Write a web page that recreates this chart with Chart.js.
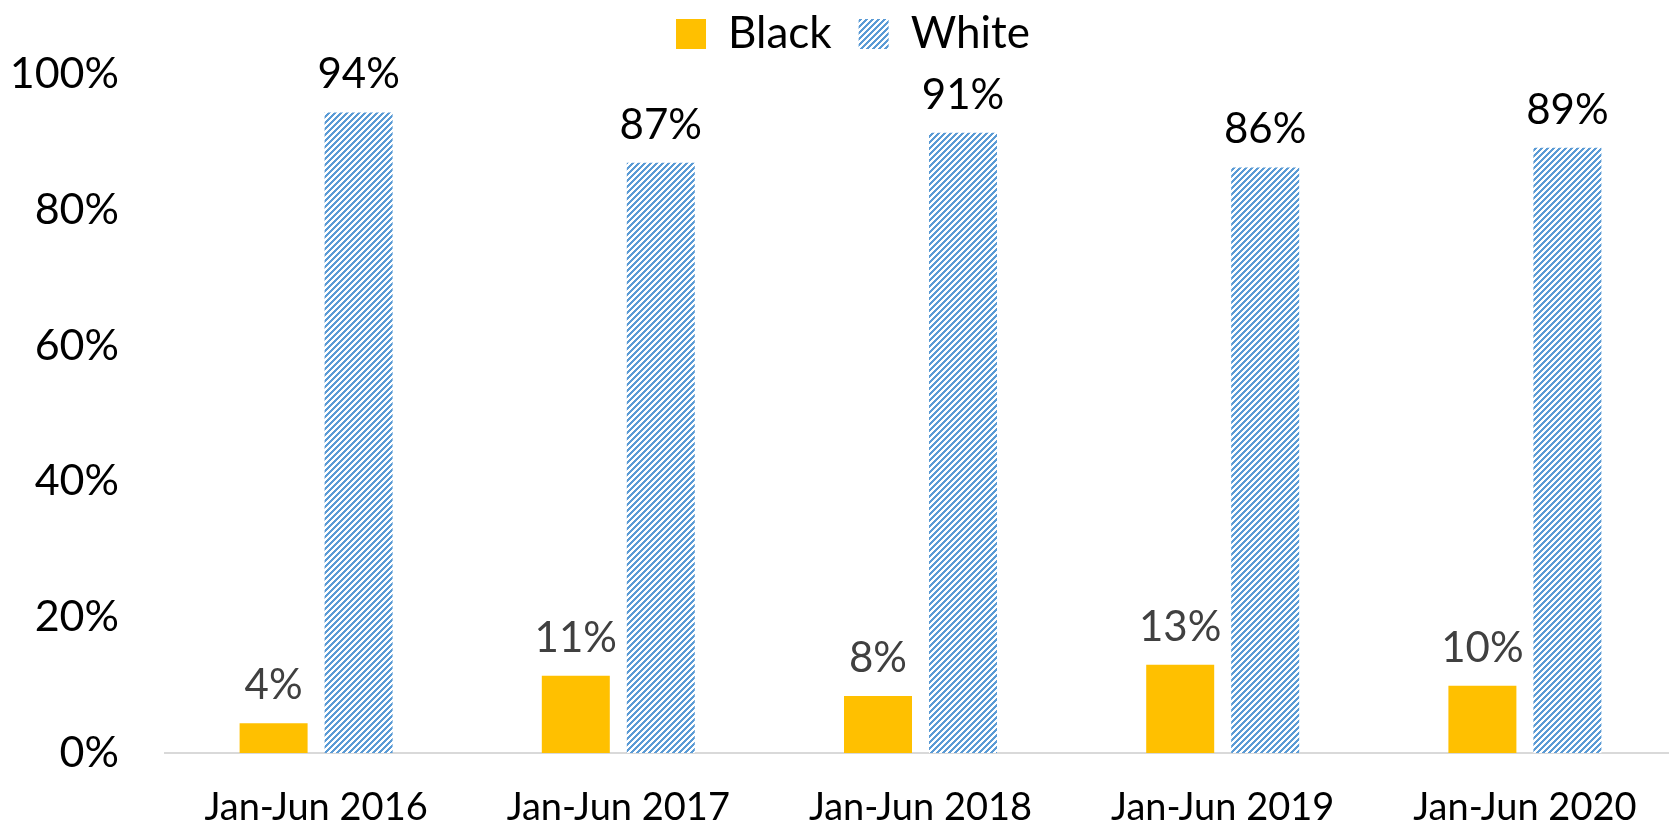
<!DOCTYPE html>
<html>
<head>
<meta charset="utf-8">
<script src="https://cdn.jsdelivr.net/npm/chart.js@4"></script>
<style>
  html, body { margin: 0; padding: 0; background: #fff; overflow: hidden; }
  #wrap { position: relative; width: 1669px; height: 825px; overflow: hidden; }
  #box { position: absolute; left: 0; top: -15px; width: 1676px; height: 840px; }
</style>
</head>
<body>
<div id="wrap"><div id="box"><canvas id="c"></canvas></div></div>
<script>
const categories = ['Jan-Jun 2016', 'Jan-Jun 2017', 'Jan-Jun 2018', 'Jan-Jun 2019', 'Jan-Jun 2020'];
const blackValues = [4.4, 11.4, 8.4, 13.0, 9.9];
const whiteValues = [94.4, 87.0, 91.4, 86.3, 89.2];
const seriesNames = ['Black', 'White'];
const yTicks = [0, 20, 40, 60, 80, 100];

function makeHatch() {
  const n = 6;
  const t = document.createElement('canvas');
  t.width = n; t.height = n;
  const g = t.getContext('2d');
  g.fillStyle = '#ffffff';
  g.fillRect(0, 0, n, n);
  g.fillStyle = '#5B9BD5';
  for (let y = 0; y < n; y++) {
    for (let k = 0; k < 3; k++) {
      const x = (((n - 1 - y + k) % n) + n) % n;
      g.fillRect(x, y, 1, 1);
    }
  }
  return g.createPattern(t, 'repeat');
}
const hatch = makeHatch();

const FONT = 'Lato, "Open Sans", sans-serif';

const legendLayout = {
  id: 'legendLayout',
  beforeInit(chart) {
    const orig = chart.legend.fit;
    chart.legend.fit = function () {
      orig.bind(chart.legend)();
      this.height = 89.5;
    };
  },
  afterLayout(chart) {
    chart.legend.left = 30;
  }
};

const dataLabels = {
  id: 'dataLabels',
  afterDatasetsDraw(chart) {
    const ctx = chart.ctx;
    ctx.save();
    ctx.font = '42px ' + FONT;
    ctx.textAlign = 'center';
    ctx.textBaseline = 'alphabetic';
    chart.data.datasets.forEach((ds, i) => {
      const meta = chart.getDatasetMeta(i);
      ctx.fillStyle = i === 0 ? '#404040' : '#000000';
      meta.data.forEach((el, j) => {
        ctx.fillText(Math.round(ds.data[j]) + '%', el.x, el.y - 24);
      });
    });
    ctx.restore();
  }
};

new Chart(document.getElementById('c'), {
  type: 'bar',
  data: {
    labels: categories,
    datasets: [
      { label: seriesNames[0], data: blackValues, backgroundColor: '#FFC000', borderWidth: 0,
        categoryPercentage: 0.5625, barPercentage: 0.8 },
      { label: seriesNames[1], data: whiteValues, backgroundColor: hatch, borderWidth: 0,
        categoryPercentage: 0.5625, barPercentage: 0.8 }
    ]
  },
  options: {
    responsive: true,
    maintainAspectRatio: false,
    animation: false,
    layout: { padding: 0 },
    plugins: {
      legend: {
        position: 'top',
        align: 'center',
        labels: {
          boxWidth: 30, boxHeight: 30, padding: 27,
          color: '#000', font: { family: FONT, size: 44 }
        }
      },
      tooltip: { enabled: false }
    },
    scales: {
      x: {
        grid: { display: false, drawTicks: false },
        border: { display: true, color: '#D9D9D9', width: 2 },
        ticks: { color: '#000', font: { family: FONT, size: 38, lineHeight: 1 }, padding: 36, maxRotation: 0 },
        afterFit(s) { s.height = 72; }
      },
      y: {
        min: 0, max: 100,
        afterBuildTicks(s) { s.ticks = yTicks.map(v => ({ value: v })); },
        grid: { display: false, drawTicks: false },
        border: { display: false },
        ticks: { color: '#000', font: { family: FONT, size: 43 }, padding: 46,
          callback: v => v + '%' },
        afterFit(s) { s.width = 165; }
      }
    }
  },
  plugins: [legendLayout, dataLabels]
});
</script>
</body>
</html>
